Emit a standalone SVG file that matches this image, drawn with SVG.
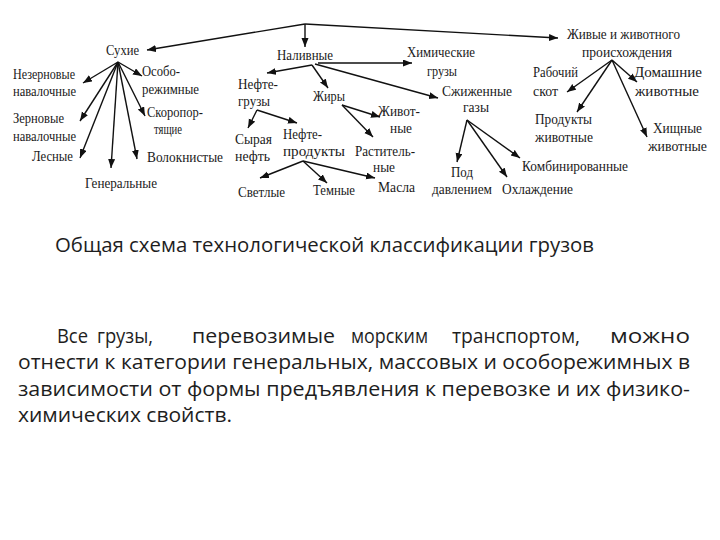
<svg xmlns="http://www.w3.org/2000/svg" width="720" height="540" viewBox="0 0 720 540">
<style>
.n{font-family:"Liberation Serif","Times New Roman","Noto Serif","DejaVu Serif",serif;font-size:14px;fill:#1a1a1a}
.c{stroke:#111;stroke-width:1.4;fill:none;marker-end:url(#ah)}
.p{font-family:"Open Sans","Liberation Sans",sans-serif;font-size:20px;fill:#1e1e1e}
</style>
<defs>
<marker id="ah" markerUnits="userSpaceOnUse" markerWidth="10" markerHeight="8" refX="9" refY="3.5" orient="auto">
<path d="M0,0 L9,3.5 L0,7 z" fill="#111"/>
</marker>
</defs>
<rect width="720" height="540" fill="#fff"/>
<g id="connectors">
<line class="c" x1="305" y1="24" x2="147" y2="50"/>
<line class="c" x1="305" y1="24" x2="305" y2="47"/>
<line class="c" x1="305" y1="24" x2="558" y2="38"/>
<line class="c" x1="118" y1="62" x2="83" y2="83"/>
<line class="c" x1="118" y1="62" x2="80" y2="121"/>
<line class="c" x1="118" y1="62" x2="80" y2="158"/>
<line class="c" x1="118" y1="62" x2="111" y2="168"/>
<line class="c" x1="118" y1="62" x2="137" y2="159"/>
<line class="c" x1="118" y1="62" x2="145" y2="116"/>
<line class="c" x1="118" y1="62" x2="142" y2="76"/>
<line class="c" x1="318" y1="63" x2="412" y2="63"/>
<line class="c" x1="312" y1="65" x2="267" y2="73"/>
<line class="c" x1="312" y1="65" x2="328" y2="88"/>
<line class="c" x1="315" y1="64" x2="438" y2="98"/>
<line class="c" x1="257" y1="110" x2="248" y2="128"/>
<line class="c" x1="257" y1="110" x2="297" y2="123"/>
<line class="c" x1="342" y1="105" x2="380" y2="117"/>
<line class="c" x1="342" y1="105" x2="373" y2="137"/>
<line class="c" x1="303" y1="161" x2="260" y2="178"/>
<line class="c" x1="303" y1="161" x2="327" y2="183"/>
<line class="c" x1="303" y1="161" x2="375" y2="178"/>
<line class="c" x1="467" y1="120" x2="457" y2="162"/>
<line class="c" x1="467" y1="120" x2="507" y2="177"/>
<line class="c" x1="467" y1="120" x2="520" y2="158"/>
<line class="c" x1="612" y1="60" x2="567" y2="92"/>
<line class="c" x1="612" y1="60" x2="577" y2="112"/>
<line class="c" x1="612" y1="60" x2="637" y2="82"/>
<line class="c" x1="612" y1="60" x2="647" y2="137"/>
</g>
<g id="n-suhie"><text class="n" x="106" y="55" textLength="33" lengthAdjust="spacingAndGlyphs">Сухие</text></g>
<g id="n-nezernovye"><text class="n" x="13" y="79" textLength="62" lengthAdjust="spacingAndGlyphs">Незерновые</text><text class="n" x="13" y="96" textLength="63" lengthAdjust="spacingAndGlyphs">навалочные</text></g>
<g id="n-zernovye"><text class="n" x="13" y="123" textLength="51" lengthAdjust="spacingAndGlyphs">Зерновые</text><text class="n" x="13" y="141" textLength="63" lengthAdjust="spacingAndGlyphs">навалочные</text></g>
<g id="n-lesnye"><text class="n" x="32" y="161" textLength="41" lengthAdjust="spacingAndGlyphs">Лесные</text></g>
<g id="n-generalnye"><text class="n" x="85" y="188" textLength="72" lengthAdjust="spacingAndGlyphs">Генеральные</text></g>
<g id="n-osoborezhimnye"><text class="n" x="142" y="76" textLength="38" lengthAdjust="spacingAndGlyphs">Особо-</text><text class="n" x="142" y="94" textLength="57" lengthAdjust="spacingAndGlyphs">режимные</text></g>
<g id="n-skoroport"><text class="n" x="147" y="117" textLength="56" lengthAdjust="spacingAndGlyphs">Скоропор-</text><text class="n" x="154" y="134" textLength="28" lengthAdjust="spacingAndGlyphs">тящие</text></g>
<g id="n-voloknistye"><text class="n" x="147" y="162" textLength="76" lengthAdjust="spacingAndGlyphs">Волокнистые</text></g>
<g id="n-nalivnye"><text class="n" x="277" y="60" textLength="56" lengthAdjust="spacingAndGlyphs">Наливные</text></g>
<g id="n-himicheskie"><text class="n" x="407" y="57" textLength="68" lengthAdjust="spacingAndGlyphs">Химические</text><text class="n" x="427" y="76" textLength="30" lengthAdjust="spacingAndGlyphs">грузы</text></g>
<g id="n-neftegruzy"><text class="n" x="238" y="89" textLength="40" lengthAdjust="spacingAndGlyphs">Нефте-</text><text class="n" x="238" y="106" textLength="32" lengthAdjust="spacingAndGlyphs">грузы</text></g>
<g id="n-zhiry"><text class="n" x="313" y="101" textLength="32" lengthAdjust="spacingAndGlyphs">Жиры</text></g>
<g id="n-zhivotnye"><text class="n" x="378" y="116" textLength="42" lengthAdjust="spacingAndGlyphs">Живот-</text><text class="n" x="390" y="133" textLength="22" lengthAdjust="spacingAndGlyphs">ные</text></g>
<g id="n-rastitelnye"><text class="n" x="355" y="156" textLength="60" lengthAdjust="spacingAndGlyphs">Раститель-</text><text class="n" x="373" y="172" textLength="22" lengthAdjust="spacingAndGlyphs">ные</text></g>
<g id="n-syraya"><text class="n" x="235" y="144" textLength="37" lengthAdjust="spacingAndGlyphs">Сырая</text><text class="n" x="235" y="161" textLength="35" lengthAdjust="spacingAndGlyphs">нефть</text></g>
<g id="n-nefteprodukty"><text class="n" x="283" y="139" textLength="39" lengthAdjust="spacingAndGlyphs">Нефте-</text><text class="n" x="283" y="156" textLength="62" lengthAdjust="spacingAndGlyphs">продукты</text></g>
<g id="n-svetlye"><text class="n" x="238" y="197" textLength="47" lengthAdjust="spacingAndGlyphs">Светлые</text></g>
<g id="n-temnye"><text class="n" x="313" y="195" textLength="42" lengthAdjust="spacingAndGlyphs">Темные</text></g>
<g id="n-masla"><text class="n" x="378" y="192" textLength="37" lengthAdjust="spacingAndGlyphs">Масла</text></g>
<g id="n-szhizhennye"><text class="n" x="442" y="96" textLength="70" lengthAdjust="spacingAndGlyphs">Сжиженные</text><text class="n" x="463" y="112" textLength="26" lengthAdjust="spacingAndGlyphs">газы</text></g>
<g id="n-pod"><text class="n" x="451" y="177" textLength="22" lengthAdjust="spacingAndGlyphs">Под</text><text class="n" x="432" y="194" textLength="60" lengthAdjust="spacingAndGlyphs">давлением</text></g>
<g id="n-ohlazhdenie"><text class="n" x="502" y="194" textLength="71" lengthAdjust="spacingAndGlyphs">Охлаждение</text></g>
<g id="n-kombinirovannye"><text class="n" x="522" y="171" textLength="106" lengthAdjust="spacingAndGlyphs">Комбинированные</text></g>
<g id="n-zhivye"><text class="n" x="567" y="39" textLength="113" lengthAdjust="spacingAndGlyphs">Живые и животного</text><text class="n" x="582" y="57" textLength="90" lengthAdjust="spacingAndGlyphs">происхождения</text></g>
<g id="n-rabochiy"><text class="n" x="533" y="77" textLength="45" lengthAdjust="spacingAndGlyphs">Рабочий</text><text class="n" x="533" y="96" textLength="25" lengthAdjust="spacingAndGlyphs">скот</text></g>
<g id="n-domashnie"><text class="n" x="634" y="77" textLength="68" lengthAdjust="spacingAndGlyphs">Домашние</text><text class="n" x="635" y="96" textLength="64" lengthAdjust="spacingAndGlyphs">животные</text></g>
<g id="n-produkty"><text class="n" x="535" y="124" textLength="57" lengthAdjust="spacingAndGlyphs">Продукты</text><text class="n" x="535" y="142" textLength="58" lengthAdjust="spacingAndGlyphs">животные</text></g>
<g id="n-hishnye"><text class="n" x="653" y="133" textLength="49" lengthAdjust="spacingAndGlyphs">Хищные</text><text class="n" x="648" y="151" textLength="59" lengthAdjust="spacingAndGlyphs">животные</text></g>
<g id="caption"><text class="p" x="55" y="252" font-size="21" textLength="539" lengthAdjust="spacingAndGlyphs">Общая схема технологической классификации грузов</text></g>
<g id="paragraph">
<text class="p" x="57" y="343" textLength="31" lengthAdjust="spacingAndGlyphs">Все</text>
<text class="p" x="97" y="343" textLength="56" lengthAdjust="spacingAndGlyphs">грузы,</text>
<text class="p" x="192" y="343" textLength="143" lengthAdjust="spacingAndGlyphs">перевозимые</text>
<text class="p" x="351" y="343" textLength="77" lengthAdjust="spacingAndGlyphs">морским</text>
<text class="p" x="452" y="343" textLength="128" lengthAdjust="spacingAndGlyphs">транспортом,</text>
<text class="p" x="610" y="343" textLength="80" lengthAdjust="spacingAndGlyphs">можно</text>
<text class="p" x="18" y="369" textLength="672" lengthAdjust="spacingAndGlyphs">отнести к категории генеральных, массовых и особорежимных в</text>
<text class="p" x="18" y="396" textLength="672" lengthAdjust="spacingAndGlyphs">зависимости от формы предъявления к перевозке и их физико-</text>
<text class="p" x="18" y="422" textLength="214" lengthAdjust="spacingAndGlyphs">химических свойств.</text>
</g>
</svg>
